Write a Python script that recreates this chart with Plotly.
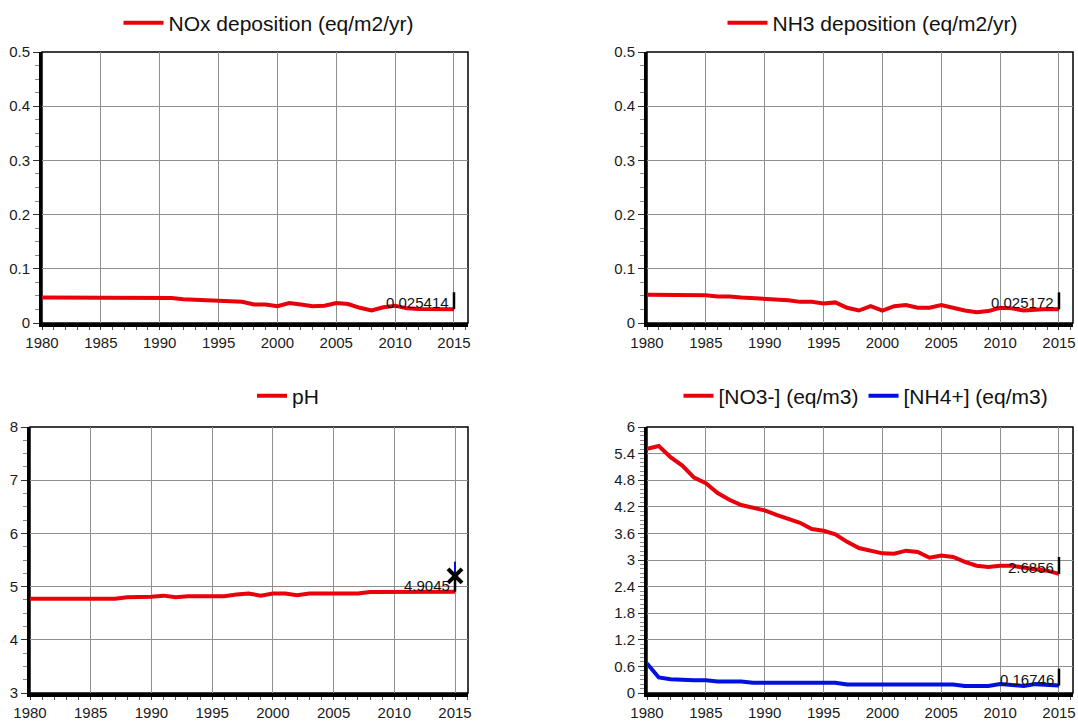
import plotly.graph_objects as go

years = list(range(1980, 2016))

nox_dep = [0.047]*11 + [0.046, 0.044, 0.043, 0.041, 0.041, 0.039, 0.039, 0.034, 0.034,
           0.031, 0.037, 0.034, 0.031, 0.032, 0.037, 0.035, 0.028, 0.023, 0.029,
           0.032, 0.027, 0.026, 0.026, 0.026, 0.025414]

nh3_dep = [0.052, 0.052, 0.052, 0.052, 0.052, 0.051, 0.049, 0.049, 0.047, 0.046,
           0.044, 0.044, 0.042, 0.039, 0.039, 0.036, 0.038, 0.028, 0.023, 0.031,
           0.023, 0.031, 0.033, 0.028, 0.028, 0.033, 0.028, 0.023, 0.020, 0.022,
           0.028, 0.027, 0.023, 0.025, 0.026, 0.025172]

ph = [4.77, 4.77, 4.77, 4.77, 4.77, 4.77, 4.77, 4.77, 4.80, 4.80,
      4.81, 4.83, 4.80, 4.82, 4.82, 4.82, 4.82, 4.85, 4.87, 4.83,
      4.87, 4.87, 4.84, 4.87, 4.87, 4.87, 4.87, 4.87, 4.90, 4.90,
      4.90, 4.90, 4.90, 4.90, 4.91, 4.9045]
ph_marker = 5.2
ph_marker_spread = 0.27

no3 = [5.51, 5.57, 5.32, 5.13, 4.86, 4.73, 4.51, 4.36, 4.24, 4.19,
       4.12, 4.02, 3.93, 3.84, 3.70, 3.66, 3.58, 3.41, 3.27, 3.21,
       3.15, 3.14, 3.21, 3.18, 3.05, 3.10, 3.07, 2.96, 2.87, 2.84,
       2.87, 2.87, 2.82, 2.79, 2.76, 2.6856]

nh4 = [0.665, 0.35, 0.31, 0.29, 0.29, 0.29, 0.26, 0.26, 0.26, 0.23,
       0.23, 0.23, 0.23, 0.23, 0.23, 0.23, 0.23, 0.19, 0.19, 0.19,
       0.19, 0.19, 0.19, 0.19, 0.19, 0.19, 0.19, 0.16, 0.16, 0.16,
       0.20, 0.19, 0.16, 0.20, 0.19, 0.16746]

RED = "#e8000b"
BLUE = "#0010e0"
FONT = "Arial, Liberation Sans, sans-serif"

W, H = 1078, 722

def fx(p):
    return p / W
def fy(p):
    return 1 - p / H
def px_x(a, b):
    return [fx(a), fx(b)]
def px_y(top, bottom):
    return [fy(bottom), fy(top)]

panels = [
    ("x", "y", px_x(42, 468), px_y(52, 323), [1980, 2016.19], [0, 0.5], 0.1, 0.025),
    ("x2", "y2", px_x(647, 1073), px_y(52, 323), [1980, 2016.19], [0, 0.5], 0.1, 0.025),
    ("x3", "y3", px_x(30, 468), px_y(427, 693), [1980, 2016.07], [3, 8], 1, 0.25),
    ("x4", "y4", px_x(647, 1073), px_y(427, 693), [1980, 2016.19], [0, 6], 0.6, 0.1),
]

fig = go.Figure()

series = [
    ("NOx deposition (eq/m2/yr)", nox_dep, RED, "x", "y", "legend"),
    ("NH3 deposition (eq/m2/yr)", nh3_dep, RED, "x2", "y2", "legend2"),
    ("pH", ph, RED, "x3", "y3", "legend3"),
    ("[NO3-] (eq/m3)", no3, RED, "x4", "y4", "legend4"),
    ("[NH4+] (eq/m3)", nh4, BLUE, "x4", "y4", "legend4"),
]

for name, vals, col, xa, ya, lg in series:
    fig.add_trace(go.Scatter(x=years, y=vals, mode="lines", name=name,
                             line=dict(color=col, width=4), xaxis=xa, yaxis=ya,
                             legend=lg, hoverinfo="x+y"))

# pH marker
fig.add_trace(go.Scatter(x=[years[-1]], y=[ph_marker], mode="markers", showlegend=False,
                         marker=dict(symbol="x-thin", size=14, line=dict(color="black", width=4)),
                         error_y=dict(type="data", symmetric=False, array=[ph_marker_spread],
                                      arrayminus=[0], color=BLUE, thickness=2, width=0),
                         xaxis="x3", yaxis="y3"))

layout = dict(width=W, height=H, margin=dict(l=0, r=0, t=0, b=0, autoexpand=False),
              paper_bgcolor="white", plot_bgcolor="white",
              font=dict(family=FONT, size=15, color="#1a1a1a"), shapes=[], annotations=[])

for i, (xa, ya, xd, yd, xr, yr, ydt, ymin) in enumerate(panels):
    xk = "xaxis" + ("" if i == 0 else str(i + 1))
    yk = "yaxis" + ("" if i == 0 else str(i + 1))
    layout[xk] = dict(domain=xd, range=xr, anchor=ya, tick0=1980, dtick=5, automargin=False,
                      showgrid=True, gridcolor="#8f8f8f", gridwidth=1,
                      showline=True, linecolor="black", linewidth=4,
                      ticks="outside", ticklen=3, tickcolor="#333", zeroline=False,
                      tickfont=dict(size=15, family=FONT, color="#1a1a1a"),
                      minor=dict(dtick=1, ticks="outside", ticklen=3, tickcolor="#555", showgrid=False))
    layout[yk] = dict(domain=yd, range=yr, anchor=xa, dtick=ydt, tick0=yr[0], automargin=False,
                      showgrid=True, gridcolor="#8f8f8f", gridwidth=1,
                      showline=True, linecolor="black", linewidth=3,
                      ticks="outside", ticklen=6, tickcolor="#333", zeroline=False,
                      tickfont=dict(size=15, family=FONT, color="#1a1a1a"),
                      minor=dict(dtick=ymin, ticks="outside", ticklen=4, tickcolor="#888", showgrid=False))
    layout["shapes"].append(dict(type="rect", xref=xa + " domain", yref=ya + " domain",
                                 x0=0, x1=1, y0=0, y1=1, line=dict(color="black", width=1.5),
                                 layer="below"))

ends = [(nox_dep, "x", "y"), (nh3_dep, "x2", "y2"), (ph, "x3", "y3"),
        (no3, "x4", "y4"), (nh4, "x4", "y4")]
for vals, xa, ya in ends:
    v = vals[-1]
    layout["shapes"].append(dict(type="line", xref=xa, yref=ya, ysizemode="pixel",
                                 yanchor=v, x0=years[-1], x1=years[-1], y0=0, y1=17,
                                 line=dict(color="black", width=2.5)))
    layout["annotations"].append(dict(x=years[-1], y=v, xref=xa, yref=ya, text=f"{v:.5g}",
                                      showarrow=False, xanchor="right", yanchor="bottom",
                                      xshift=-3, yshift=-4,
                                      font=dict(size=15, family=FONT, color="#111")))

legend_common = dict(orientation="h", xanchor="center", yanchor="middle",
                     font=dict(size=21, family=FONT, color="#111"),
                     bgcolor="rgba(0,0,0,0)", tracegroupgap=0)
layout["legend"] = dict(legend_common, x=fx(269), y=fy(23), itemwidth=40)
layout["legend2"] = dict(legend_common, x=fx(873), y=fy(23), itemwidth=40)
layout["legend3"] = dict(legend_common, x=fx(288), y=fy(396), itemwidth=30)
layout["legend4"] = dict(legend_common, x=fx(866), y=fy(396), itemwidth=30)

fig.update_layout(**layout)
fig.write_html("out.html", config={"displayModeBar": False},
               post_script="document.body.style.margin='0';document.body.style.overflow='hidden';")
